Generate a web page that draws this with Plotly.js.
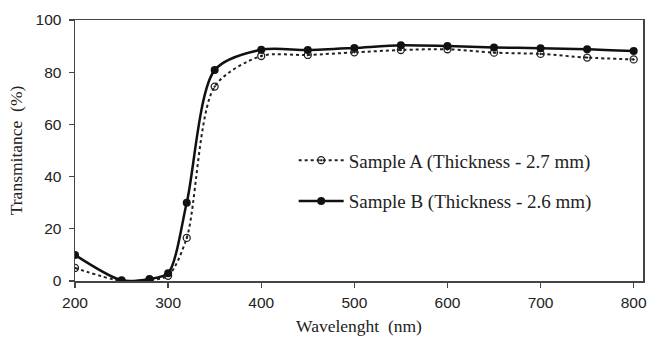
<!DOCTYPE html>
<html>
<head>
<meta charset="utf-8">
<script src="https://cdn.plot.ly/plotly-3.0.1.min.js"></script>
<style>html,body{margin:0;padding:0;background:#fff}#chart{width:650px;height:338px}</style>
</head>
<body>
<div id="chart"></div>
<script>
const wavelengthA = [200, 250, 280, 300, 320, 350, 400, 450, 500, 550, 600, 650, 700, 750, 800];
const sampleA = [5, 0, 0.4, 2, 16.5, 74.5, 86.2, 86.6, 87.6, 88.5, 88.8, 87.5, 87, 85.6, 84.9];
const wavelengthB = [200, 250, 280, 300, 320, 350, 400, 450, 500, 550, 600, 650, 700, 750, 800];
const sampleB = [10, 0.3, 0.8, 3, 30, 80.8, 88.6, 88.5, 89.3, 90.3, 90, 89.5, 89.2, 88.8, 88.1];
const nameA = "Sample A (Thickness - 2.7 mm)";
const nameB = "Sample B (Thickness - 2.6 mm)";
const xTicks = [200, 300, 400, 500, 600, 700, 800];
const yTicks = [0, 20, 40, 60, 80, 100];

const serif = "Liberation Serif";

const traces = [
  {
    x: wavelengthA, y: sampleA, name: nameA, legendgroup: "a",
    mode: "lines+markers", type: "scatter",
    line: {color: "#222", width: 2, dash: "dot", shape: "spline", smoothing: 0.8},
    marker: {symbol: "circle-open-dot", size: 7, color: "#222", line: {width: 1.3, color: "#222"}}
  },
  {
    x: wavelengthB, y: sampleB, name: nameB, legendgroup: "b",
    mode: "lines+markers", type: "scatter",
    line: {color: "#111", width: 2.5, shape: "spline", smoothing: 0.8},
    marker: {symbol: "circle", size: 8, color: "#111"}
  }
];

const axisCommon = {
  showgrid: false, zeroline: false, showline: true, mirror: true,
  linecolor: "#444", linewidth: 1.5, ticks: "outside", ticklen: 5,
  tickcolor: "#444", tickwidth: 1.3,
  tickfont: {family: "Liberation Sans", size: 15.5, color: "#222"}
};

const layout = {
  width: 650, height: 338,
  margin: {l: 75, r: 7, t: 20, b: 57},
  paper_bgcolor: "#fff", plot_bgcolor: "#fff",
  showlegend: true,
  legend: {
    x: 0.385, y: 0.535, xanchor: "left", yanchor: "top",
    font: {family: serif, size: 19, color: "#222"},
    bgcolor: "rgba(0,0,0,0)", tracegroupgap: 13, itemwidth: 45
  },
  xaxis: Object.assign({}, axisCommon, {
    range: [200, 810], tickvals: xTicks, ticklabelstandoff: 2,
    title: {text: "Wavelenght  (nm)", standoff: 9,
      font: {family: serif, size: 17.5, color: "#222"}}
  }),
  yaxis: Object.assign({}, axisCommon, {
    range: [0, 100], tickvals: yTicks, ticklabelstandoff: 4,
    title: {text: "Transmitance  (%)", standoff: 8,
      font: {family: serif, size: 17.5, color: "#222"}}
  })
};

Plotly.newPlot("chart", traces, layout, {displayModeBar: false, staticPlot: true});
</script>
</body>
</html>
